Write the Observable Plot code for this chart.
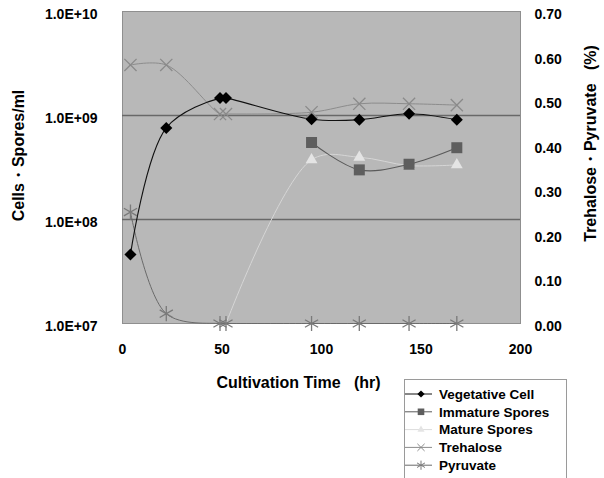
<!DOCTYPE html>
<html>
<head>
<meta charset="utf-8">
<script src="https://cdn.jsdelivr.net/npm/d3@7"></script>
<script src="https://cdn.jsdelivr.net/npm/@observablehq/plot@0.6"></script>
<style>
  html, body { margin: 0; padding: 0; background: white; }
  #wrap { position: relative; width: 604px; height: 478px; overflow: hidden; }
  #legend { position: absolute; left: 404px; top: 379px; }
</style>
</head>
<body>
<div id="wrap"><div id="chart"></div><div id="legend"></div></div>
<script>
// ---- data ----
const vegTime = [4, 22, 49, 52, 95, 119, 144, 168];
const vegetative = [4.6e7, 7.6e8, 1.47e9, 1.47e9, 9.2e8, 9.1e8, 1.04e9, 9.1e8];

const immTime = [95, 119, 144, 168];
const immature = [5.5e8, 3.0e8, 3.4e8, 4.9e8];

const matTime = [52, 95, 119, 144, 168];
const mature = [1e7, 3.75e8, 3.97e8, 3.3e8, 3.35e8];

const treTime = [4, 22, 49, 52, 95, 119, 144, 168];
const trehalose = [0.58, 0.58, 0.47, 0.47, 0.474, 0.493, 0.493, 0.49];

const pyrTime = [4, 22, 49, 52, 95, 119, 144, 168];
const pyruvate = [0.25, 0.022, 0, 0, 0, 0, 0, 0];

const xTicks = [0, 50, 100, 150, 200];
const leftTicks = [1e7, 1e8, 1e9, 1e10];
const leftTickLabels = ["1.0E+07", "1.0E+08", "1.0E+09", "1.0E+10"];
const rightTicks = [0, 0.1, 0.2, 0.3, 0.4, 0.5, 0.6, 0.7];
const rightTickLabels = ["0.00", "0.10", "0.20", "0.30", "0.40", "0.50", "0.60", "0.70"];
const gridLines = [1e8, 1e9];

const seriesNames = ["Vegetative Cell", "Immature Spores", "Mature Spores", "Trehalose", "Pyruvate"];
const xTitle = "Cultivation Time\u00a0\u00a0\u00a0(hr)";
const leftTitle = "Cells\u30FBSpores/ml";
const rightTitle = "Trehalose\u30FBPyruvate\u00a0\u00a0\u00a0(%)";

// right axis (0 - 0.70 %) mapped onto the left log scale (1e7 - 1e10)
const toY = p => Math.pow(10, 7 + 3 * p / 0.7);

const vegData = vegTime.map((t, i) => ({t, v: vegetative[i]}));
const immData = immTime.map((t, i) => ({t, v: immature[i]}));
const matData = matTime.map((t, i) => ({t, v: mature[i]}));
const treData = treTime.map((t, i) => ({t, v: toY(trehalose[i])}));
const pyrData = pyrTime.map((t, i) => ({t, v: toY(pyruvate[i])}));
const rightData = rightTicks.map((p, i) => ({v: toY(p), label: rightTickLabels[i]}));

const style = {
  veg: {color: "#000000", line: "#111111", sym: "square", r: 4.8, rotate: 45},
  imm: {color: "#5e5e5e", line: "#5a5a5a", sym: "square", r: 6.2},
  mat: {color: "#e4e4e4", line: "#d6d6d6", sym: "triangle", r: 4.4},
  tre: {color: "#8a8a8a", line: "#8c8c8c", sym: "times", r: 5.6},
  pyr: {color: "#7a7a7a", line: "#6a6a6a", sym: "asterisk", r: 7.2}
};

const curve = "catmull-rom";

const chart = Plot.plot({
  width: 604,
  height: 478,
  marginLeft: 122,
  marginRight: 84,
  marginTop: 11,
  marginBottom: 155,
  style: {fontFamily: "'Liberation Sans', Arial, sans-serif", fontSize: "14px", fontWeight: "bold", background: "white", color: "black"},
  x: {domain: [0, 200]},
  y: {type: "log", domain: [1e7, 1e10]},
  marks: [
    Plot.frame({fill: "#b8b8b8", stroke: "#8f8f8f"}),
    Plot.ruleY(gridLines, {stroke: "#686868", strokeWidth: 1.3}),
    Plot.axisX({ticks: xTicks, tickSize: 0, tickPadding: 21, label: null}),
    Plot.axisY({ticks: leftTicks, tickSize: 0, tickPadding: 25, dy: 3, label: null,
      tickFormat: d => leftTickLabels[leftTicks.indexOf(d)]}),
    // right axis labels
    Plot.text(rightData, {frameAnchor: "right", y: "v", text: "label", dx: 14, dy: 3, textAnchor: "start", lineAnchor: "middle", fontSize: 14}),
    // lines
    Plot.line(pyrData, {x: "t", y: "v", curve, stroke: style.pyr.line, strokeWidth: 1}),
    Plot.line(treData, {x: "t", y: "v", curve, stroke: style.tre.line, strokeWidth: 1}),
    Plot.line(matData, {x: "t", y: "v", curve, stroke: style.mat.line, strokeWidth: 1}),
    Plot.line(immData, {x: "t", y: "v", curve, stroke: style.imm.line, strokeWidth: 1.1}),
    Plot.line(vegData, {x: "t", y: "v", curve, stroke: style.veg.line, strokeWidth: 1.1}),
    // markers
    Plot.dot(pyrData, {x: "t", y: "v", symbol: style.pyr.sym, r: style.pyr.r, stroke: style.pyr.color, strokeWidth: 1.3}),
    Plot.dot(treData, {x: "t", y: "v", symbol: style.tre.sym, r: style.tre.r, stroke: style.tre.color, strokeWidth: 1.3}),
    Plot.dot(matData.filter(d => d.v > 1e7), {x: "t", y: "v", symbol: style.mat.sym, r: style.mat.r, fill: style.mat.color}),
    Plot.dot(immData, {x: "t", y: "v", symbol: style.imm.sym, r: style.imm.r, fill: style.imm.color}),
    Plot.dot(vegData, {x: "t", y: "v", symbol: style.veg.sym, r: style.veg.r, rotate: 45, fill: style.veg.color}),
    // titles
    Plot.text([xTitle], {frameAnchor: "middle", text: d => d, dx: -23, dy: 215, fontSize: 16}),
    Plot.text([leftTitle], {frameAnchor: "middle", text: d => d, dx: -303, dy: -12, rotate: -90, fontSize: 16}),
    Plot.text([rightTitle], {frameAnchor: "middle", text: d => d, dx: 269, dy: -24, rotate: -90, fontSize: 16})
  ]
});
document.getElementById("chart").appendChild(chart);

// ---- legend ----
const keys = ["veg", "imm", "mat", "tre", "pyr"];
const lg = d3.select("#legend").append("svg")
  .attr("width", 164).attr("height", 100)
  .style("font-family", "'Liberation Sans', Arial, sans-serif")
  .style("font-weight", "bold").style("font-size", "13.5px");
lg.append("rect").attr("x", 0.5).attr("y", 0.5).attr("width", 162).attr("height", 110)
  .attr("fill", "white").attr("stroke", "#9a9a9a");
const symMap = {square: d3.symbolSquare, triangle: d3.symbolTriangle, times: d3.symbolTimes, asterisk: d3.symbolAsterisk};
keys.forEach((k, i) => {
  const s = style[k];
  const cy = 15 + i * 17.8;
  const g = lg.append("g");
  g.append("line").attr("x1", 1).attr("x2", 28).attr("y1", cy).attr("y2", cy)
    .attr("stroke", k === "mat" ? "#dcdcdc" : s.line).attr("stroke-width", 1);
  const size = Math.PI * (s.r * 0.6) ** 2;
  const p = g.append("path").attr("d", d3.symbol(symMap[s.sym], size)())
    .attr("transform", `translate(17,${cy})` + (s.rotate ? ` rotate(${s.rotate})` : ""));
  if (s.sym === "times" || s.sym === "asterisk") p.attr("fill", "none").attr("stroke", s.color).attr("stroke-width", 1);
  else p.attr("fill", s.color);
  g.append("text").attr("x", 35).attr("y", cy).attr("dy", "0.35em").text(seriesNames[i]);
});
</script>
</body>
</html>
